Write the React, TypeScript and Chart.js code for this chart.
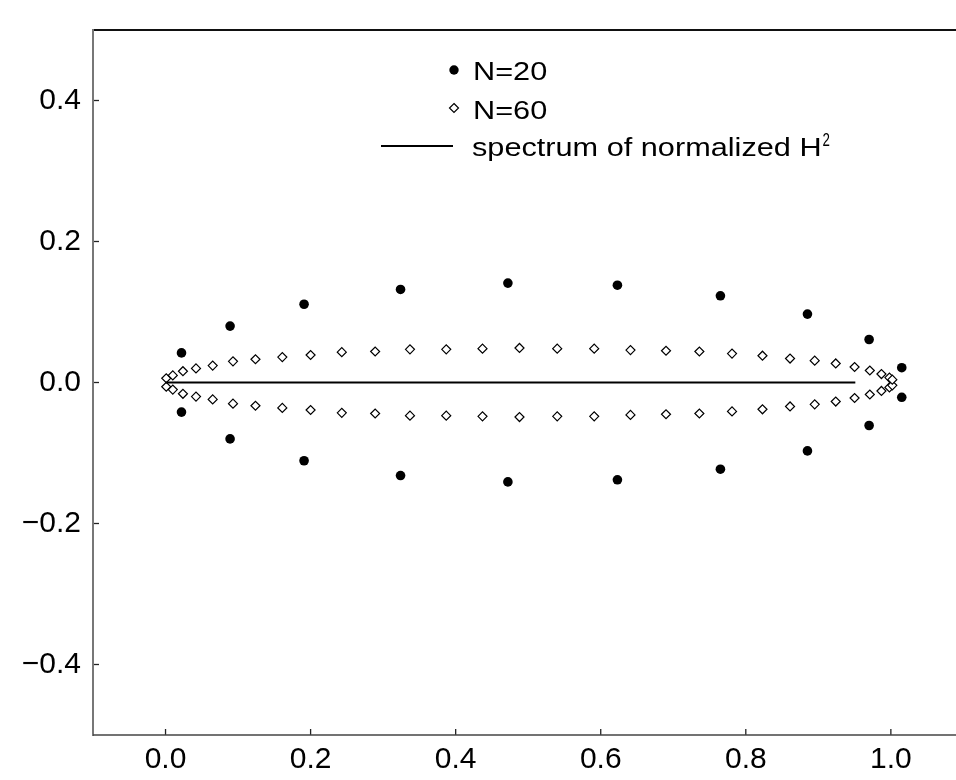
import { useEffect, useRef } from 'react';
import { Chart, registerables } from 'chart.js';

Chart.register(...registerables);

// ---- data ----
const n20X = [0.022, 0.089, 0.191, 0.324, 0.472, 0.623, 0.765, 0.885, 0.970, 1.015];
const n20YUpper = [0.042, 0.080, 0.111, 0.132, 0.141, 0.138, 0.123, 0.097, 0.061, 0.021];
const n20YLower = [-0.042, -0.080, -0.111, -0.132, -0.141, -0.138, -0.123, -0.097, -0.061, -0.021];

const n60X = [0.001, 0.010, 0.024, 0.042, 0.065, 0.093, 0.124, 0.161, 0.200, 0.243, 0.289, 0.337, 0.387, 0.437, 0.488,
  0.540, 0.591, 0.641, 0.690, 0.736, 0.781, 0.823, 0.861, 0.895, 0.924, 0.950, 0.971, 0.987, 0.998, 1.002];
const n60YUpper = [0.006, 0.010, 0.016, 0.020, 0.024, 0.030, 0.033, 0.036, 0.039, 0.043, 0.044, 0.047, 0.047, 0.048, 0.049,
  0.048, 0.048, 0.046, 0.045, 0.044, 0.041, 0.038, 0.034, 0.031, 0.027, 0.022, 0.017, 0.012, 0.007, 0.004];
const n60YLower = [-0.006, -0.010, -0.016, -0.020, -0.024, -0.030, -0.033, -0.036, -0.039, -0.043, -0.044, -0.047, -0.047, -0.048, -0.049,
  -0.048, -0.048, -0.046, -0.045, -0.044, -0.041, -0.038, -0.034, -0.031, -0.027, -0.022, -0.017, -0.012, -0.007, -0.004];

const spectrumX = [0.0, 0.951];
const spectrumY = [0.0, 0.0];

const xTicks = [0.0, 0.2, 0.4, 0.6, 0.8, 1.0];
const yTicks = [-0.4, -0.2, 0.0, 0.2, 0.4];
const xRange = [-0.1, 1.1];
const yRange = [-0.5, 0.5];

const legendLabels = ['N=20', 'N=60', 'spectrum of normalized H'];
const legendSup = '2';

const FONT = '"Liberation Sans", Arial, Helvetica, sans-serif';

const pts = (xs: number[], ys: number[]) => xs.map((x, i) => ({ x, y: ys[i] }));
const fmt = (v: number) => v.toFixed(1).replace('-', '\u2212');

const framePlugin = {
  id: 'frame',
  afterDraw(chart: any) {
    const { ctx, chartArea: a, scales } = chart;
    ctx.save();
    // inward tick marks
    ctx.strokeStyle = '#222';
    ctx.lineWidth = 1.3;
    yTicks.forEach((v) => {
      const y = scales.y.getPixelForValue(v);
      ctx.beginPath();
      ctx.moveTo(a.left, y);
      ctx.lineTo(a.left + 6, y);
      ctx.stroke();
    });
    xTicks.forEach((v) => {
      const x = scales.x.getPixelForValue(v);
      ctx.beginPath();
      ctx.moveTo(x, a.bottom);
      ctx.lineTo(x, a.bottom - 6);
      ctx.stroke();
    });
    // top border
    ctx.strokeStyle = '#111';
    ctx.lineWidth = 2;
    ctx.beginPath();
    ctx.moveTo(a.left, a.top);
    ctx.lineTo(a.right + 2, a.top);
    ctx.stroke();
    // left border
    ctx.strokeStyle = '#777';
    ctx.lineWidth = 2;
    ctx.beginPath();
    ctx.moveTo(a.left, a.top - 1);
    ctx.lineTo(a.left, a.bottom + 1);
    ctx.stroke();
    // bottom border
    ctx.strokeStyle = '#444';
    ctx.lineWidth = 1.5;
    ctx.beginPath();
    ctx.moveTo(a.left, a.bottom);
    ctx.lineTo(a.right + 2, a.bottom);
    ctx.stroke();
    ctx.restore();
  },
};

const legendPlugin = {
  id: 'customLegend',
  afterDraw(chart: any) {
    const { ctx } = chart;
    ctx.save();
    const sx = 1.18;
    const drawText = (t: string, x: number, y: number, size: number, scale: number) => {
      ctx.save();
      ctx.translate(x, y);
      ctx.scale(scale, 1);
      ctx.font = `${size}px ${FONT}`;
      ctx.fillStyle = '#000';
      ctx.textAlign = 'left';
      ctx.textBaseline = 'alphabetic';
      ctx.fillText(t, 0, 0);
      const w = ctx.measureText(t).width * scale;
      ctx.restore();
      return w;
    };
    // N=20 marker
    ctx.fillStyle = '#000';
    ctx.beginPath();
    ctx.arc(454, 70, 4.7, 0, Math.PI * 2);
    ctx.fill();
    drawText(legendLabels[0], 473, 79.5, 26, sx);
    // N=60 marker
    ctx.strokeStyle = '#000';
    ctx.fillStyle = '#fff';
    ctx.lineWidth = 1.2;
    ctx.beginPath();
    ctx.moveTo(454, 108 - 4.5);
    ctx.lineTo(454 + 4.5, 108);
    ctx.lineTo(454, 108 + 4.5);
    ctx.lineTo(454 - 4.5, 108);
    ctx.closePath();
    ctx.fill();
    ctx.stroke();
    drawText(legendLabels[1], 473, 118.5, 26, sx);
    // spectrum line
    ctx.strokeStyle = '#000';
    ctx.lineWidth = 2;
    ctx.beginPath();
    ctx.moveTo(381, 146);
    ctx.lineTo(453, 146);
    ctx.stroke();
    const w = drawText(legendLabels[2], 472, 156, 26, sx);
    drawText(legendSup, 472 + w + 1, 146, 19, 0.7);
    ctx.restore();
  },
};

export default function App() {
  const ref = useRef<HTMLCanvasElement>(null);
  useEffect(() => {
    if (!ref.current) return;
    const chart = new Chart(ref.current, {
      type: 'scatter',
      data: {
        datasets: [
          {
            type: 'line',
            label: 'spectrum',
            data: pts(spectrumX, spectrumY),
            borderColor: '#000',
            borderWidth: 2,
            pointRadius: 0,
            fill: false,
          } as any,
          {
            label: 'N=60 upper',
            data: pts(n60X, n60YUpper),
            pointStyle: 'rectRot',
            pointRadius: 4.5,
            pointBackgroundColor: '#fff',
            pointBorderColor: '#000',
            pointBorderWidth: 1.2,
          },
          {
            label: 'N=60 lower',
            data: pts(n60X, n60YLower),
            pointStyle: 'rectRot',
            pointRadius: 4.5,
            pointBackgroundColor: '#fff',
            pointBorderColor: '#000',
            pointBorderWidth: 1.2,
          },
          {
            label: 'N=20 upper',
            data: pts(n20X, n20YUpper),
            pointStyle: 'circle',
            pointRadius: 4.8,
            pointBackgroundColor: '#000',
            pointBorderWidth: 0,
          },
          {
            label: 'N=20 lower',
            data: pts(n20X, n20YLower),
            pointStyle: 'circle',
            pointRadius: 4.8,
            pointBackgroundColor: '#000',
            pointBorderWidth: 0,
          },
        ],
      },
      options: {
        animation: false,
        responsive: false,
        devicePixelRatio: 1,
        layout: { padding: { left: 0, top: 10, right: 36.6, bottom: 0 } },
        plugins: { legend: { display: false }, tooltip: { enabled: false } },
        scales: {
          x: {
            type: 'linear',
            min: xRange[0],
            max: xRange[1],
            grid: { display: false, drawTicks: false },
            border: { display: false },
            afterBuildTicks: (s: any) => { s.ticks = xTicks.map((v) => ({ value: v })); },
            afterFit: (s: any) => { s.height = 45; },
            ticks: {
              color: '#000',
              font: { family: FONT, size: 30 },
              padding: 7,
              maxRotation: 0,
              autoSkip: false,
              callback: (v: any) => fmt(Number(v)),
            },
          },
          y: {
            type: 'linear',
            min: yRange[0],
            max: yRange[1],
            grid: { display: false, drawTicks: false },
            border: { display: false },
            afterBuildTicks: (s: any) => { s.ticks = yTicks.map((v) => ({ value: v })); },
            afterFit: (s: any) => { s.width = 93; },
            ticks: {
              color: '#000',
              font: { family: FONT, size: 30 },
              padding: 12,
              autoSkip: false,
              callback: (v: any) => fmt(Number(v)),
            },
          },
        },
      },
      plugins: [framePlugin, legendPlugin],
    });
    return () => chart.destroy();
  }, []);
  return (
    <div style={{ position: 'fixed', left: 0, top: 0, width: 956, height: 780, overflow: 'hidden', background: '#fff' }}>
      <canvas ref={ref} width={1000} height={780} style={{ display: 'block' }} />
    </div>
  );
}
